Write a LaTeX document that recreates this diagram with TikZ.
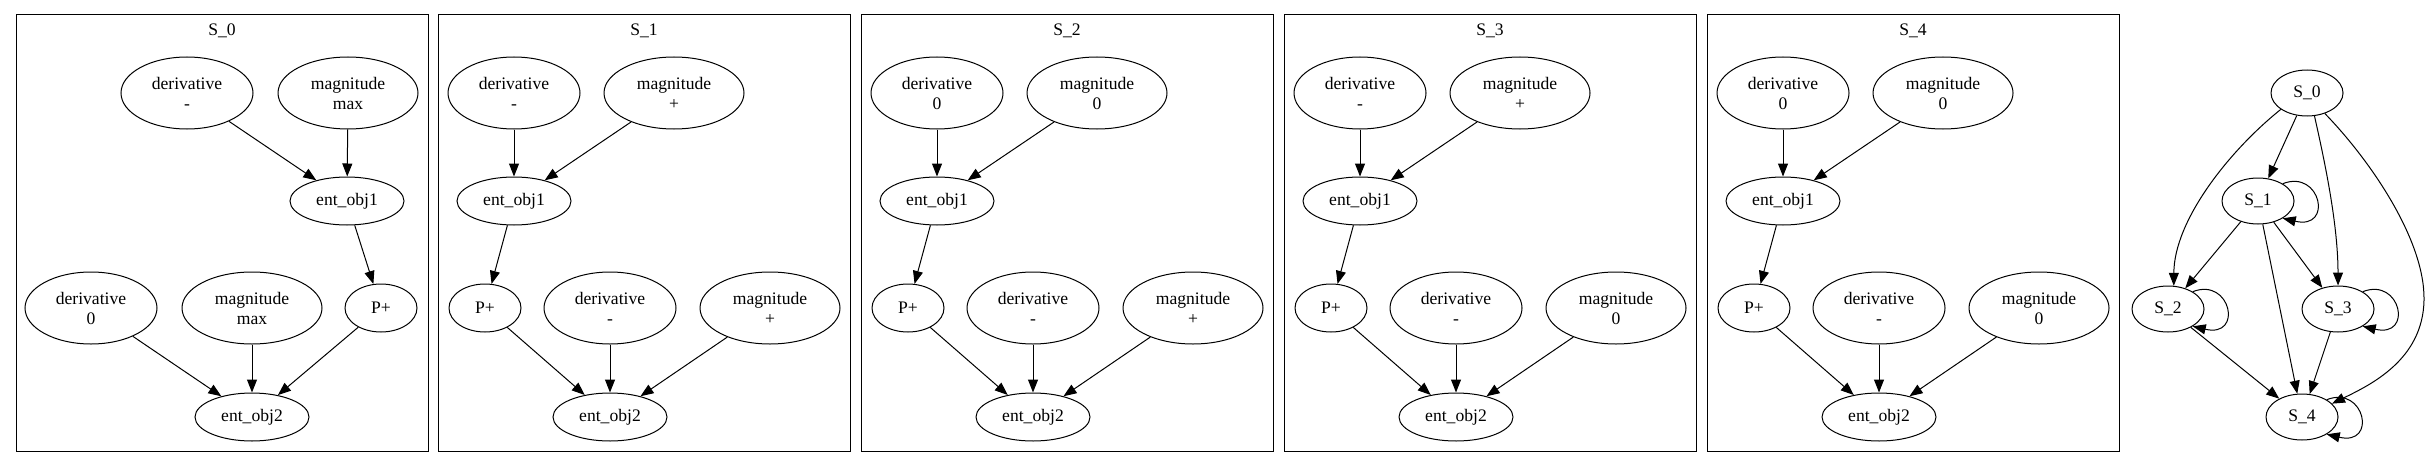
\documentclass[tikz,border=0pt]{standalone}
\usepackage{fontspec}
\setmainfont{Liberation Serif}
\usetikzlibrary{arrows.meta,shapes.geometric}
\tikzset{
 base/.style={draw, ellipse, inner sep=0pt, line width=0.75pt, font=\fontsize{13.2}{15}\selectfont, align=center},
 dnode/.style={base, minimum width=99pt, minimum height=54pt},
 mnode/.style={base, minimum width=105pt, minimum height=54pt},
 enode/.style={base, minimum width=85.5pt, minimum height=36pt},
 pnode/.style={base, minimum width=54pt, minimum height=36pt},
 snode/.style={base, minimum width=54pt, minimum height=34.5pt},
 conn/.style={draw, line width=0.75pt, -{Triangle[length=9.75pt,width=7.5pt]}},
 cluster/.style={draw, line width=0.75pt},
 ctitle/.style={inner sep=0pt, font=\fontsize{13.2}{15}\selectfont},
}
\newcommand\clusterB[7]{%
 \draw[cluster] (#2,15) rectangle ({#2+412},451);
 \node[ctitle] (#1t) at ({#2+206},31) {#3};
 \node[dnode] (#1d1) at ({#2+76},93) {derivative\\#4};
 \node[mnode] (#1m1) at ({#2+236},93) {magnitude\\#5};
 \node[enode] (#1e1) at ({#2+76},201) {ent\_obj1};
 \node[pnode] (#1p) at ({#2+47},308) {P+};
 \node[dnode] (#1d2) at ({#2+172},308) {derivative\\#6};
 \node[mnode] (#1m2) at ({#2+332},308) {magnitude\\#7};
 \node[enode] (#1e2) at ({#2+172},417) {ent\_obj2};
 \draw[conn] (#1d1) -- (#1e1);
 \draw[conn] (#1m1) -- (#1e1);
 \draw[conn] (#1e1) -- (#1p);
 \draw[conn] (#1p) -- (#1e2);
 \draw[conn] (#1d2) -- (#1e2);
 \draw[conn] (#1m2) -- (#1e2);
}
\newcommand\selfloop[1]{%
 \draw[conn] (#1.35) .. controls +(38,-15) and +(51,12) .. (#1.-35);
}
\begin{document}
\begin{tikzpicture}[x=0.75pt,y=-0.75pt]
\useasboundingbox (0,0) rectangle (2429,467);
% cluster S_0
\draw[cluster] (16,15) rectangle (428,451);
\node[ctitle] (s0t) at (222,31) {S\_0};
\node[dnode] (s0d1) at (187,93) {derivative\\-};
\node[mnode] (s0m1) at (348,93) {magnitude\\max};
\node[enode] (s0e1) at (347,201) {ent\_obj1};
\node[pnode] (s0p) at (381,308) {P+};
\node[dnode] (s0d2) at (91,308) {derivative\\0};
\node[mnode] (s0m2) at (252,308) {magnitude\\max};
\node[enode] (s0e2) at (252,417) {ent\_obj2};
\draw[conn] (s0d1) -- (s0e1);
\draw[conn] (s0m1) -- (s0e1);
\draw[conn] (s0e1) -- (s0p);
\draw[conn] (s0d2) -- (s0e2);
\draw[conn] (s0m2) -- (s0e2);
\draw[conn] (s0p) -- (s0e2);
% clusters S_1 .. S_4
\clusterB{s1}{438}{S\_1}{-}{+}{-}{+}
\clusterB{s2}{861}{S\_2}{0}{0}{-}{+}
\clusterB{s3}{1284}{S\_3}{-}{+}{-}{0}
\clusterB{s4}{1707}{S\_4}{0}{0}{-}{0}
% state graph
\node[snode] (g0) at (2307,93) {S\_0};
\node[snode] (g1) at (2258,201) {S\_1};
\node[snode] (g2) at (2168,309) {S\_2};
\node[snode] (g3) at (2338,309) {S\_3};
\node[snode] (g4) at (2302,417) {S\_4};
\draw[conn] (g0) -- (g1);
\draw[conn] (g0.212) .. controls (2230,150) and (2174,220) .. (g2.76);
\draw[conn] (g0.288) .. controls (2322,150) and (2338,220) .. (g3.north);
\draw[conn] (g0.311) .. controls (2370,160) and (2425,240) .. (2424,300) .. controls (2423,360) and (2370,385) .. (g4.24);
\draw[conn] (g1) -- (g2);
\draw[conn] (g1) -- (g3);
\draw[conn] (g1) -- (g4);
\draw[conn] (g2) -- (g4);
\draw[conn] (g3) -- (g4);
\selfloop{g1}
\selfloop{g2}
\selfloop{g3}
\selfloop{g4}
\end{tikzpicture}
\end{document}
